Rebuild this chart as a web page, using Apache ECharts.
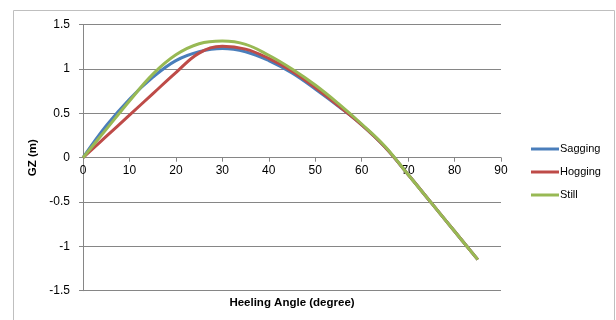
<!DOCTYPE html>
<html>
<head>
<meta charset="utf-8">
<script src="https://cdn.jsdelivr.net/npm/echarts@6/dist/echarts.min.js"></script>
<style>
html,body{margin:0;padding:0;background:#fff;}
#c{width:616px;height:320px;}
</style>
</head>
<body>
<div id="c"></div>
<script>
const angles = [0,5,10,15,20,25,30,35,40,45,50,55,60,65,70,75,80,85];
const sagging = [0,0.36,0.66,0.905,1.095,1.195,1.232,1.195,1.095,0.955,0.775,0.58,0.37,0.12,-0.19,-0.51,-0.83,-1.15];
const hogging = [0,0.24,0.48,0.72,0.96,1.18,1.258,1.225,1.12,0.975,0.79,0.585,0.37,0.12,-0.19,-0.51,-0.83,-1.15];
const still   = [0,0.32,0.64,0.94,1.16,1.285,1.315,1.278,1.155,1.00,0.82,0.61,0.38,0.13,-0.19,-0.51,-0.83,-1.15];
const seriesNames = ['Sagging','Hogging','Still'];
const xTitle = 'Heeling Angle (degree)';
const yTitle = 'GZ (m)';

const pairs = arr => angles.map((a,i)=>[a,arr[i]]);
const colors = ['#4A7EBB','#BE4B48','#98B954'];
const font = 'Liberation Sans';

const chart = echarts.init(document.getElementById('c'), null, {renderer:'canvas'});
chart.setOption({
  animation:false,
  color: colors,
  grid:{left:83,right:115,top:24.7,bottom:29.3,containLabel:false},
  graphic:[
    {type:'rect',shape:{x:13.5,y:10.5,width:601,height:330},style:{fill:'none',stroke:'#bfbfbf',lineWidth:1},silent:true,z:-10},
    {type:'text',style:{text:xTitle,font:'bold 11.5px "'+font+'"',fill:'#000',textAlign:'center',textVerticalAlign:'middle',x:292,y:302.5},silent:true}
  ],
  legend:{
    orient:'vertical',left:526,top:137,
    itemWidth:28,itemHeight:3,itemGap:9,icon:'rect',
    textStyle:{fontFamily:font,fontSize:11,color:'#000',lineHeight:14,padding:[0,0,0,-4]},
    data:seriesNames
  },
  xAxis:{
    type:'value',min:0,max:90,interval:10,position:'bottom',offset:-133,
    axisLine:{show:true,onZero:false,lineStyle:{color:'#868686',width:1}},
    axisTick:{show:true,length:4,lineStyle:{color:'#868686'}},
    axisLabel:{fontFamily:font,fontSize:12,color:'#000',margin:7},
    splitLine:{show:false}
  },
  yAxis:{
    type:'value',min:-1.5,max:1.5,interval:0.5,
    name:yTitle,nameLocation:'middle',nameGap:41,nameRotate:90,
    nameTextStyle:{fontFamily:font,fontSize:11.5,fontWeight:'bold',color:'#000'},
    axisLine:{show:true,onZero:false,lineStyle:{color:'#868686',width:1}},
    axisTick:{show:true,length:4,lineStyle:{color:'#868686'}},
    axisLabel:{fontFamily:font,fontSize:12,color:'#000',margin:13},
    splitLine:{show:true,lineStyle:{color:'#868686',width:1}}
  },
  series:[
    {name:seriesNames[0],type:'line',data:pairs(sagging),smooth:0.4,smoothMonotone:'none',symbol:'none',lineStyle:{width:3,color:colors[0]},z:2},
    {name:seriesNames[1],type:'line',data:pairs(hogging),smooth:0.4,smoothMonotone:'none',symbol:'none',lineStyle:{width:3,color:colors[1]},z:3},
    {name:seriesNames[2],type:'line',data:pairs(still),smooth:0.4,smoothMonotone:'none',symbol:'none',lineStyle:{width:3,color:colors[2]},z:4}
  ]
});
</script>
</body>
</html>
